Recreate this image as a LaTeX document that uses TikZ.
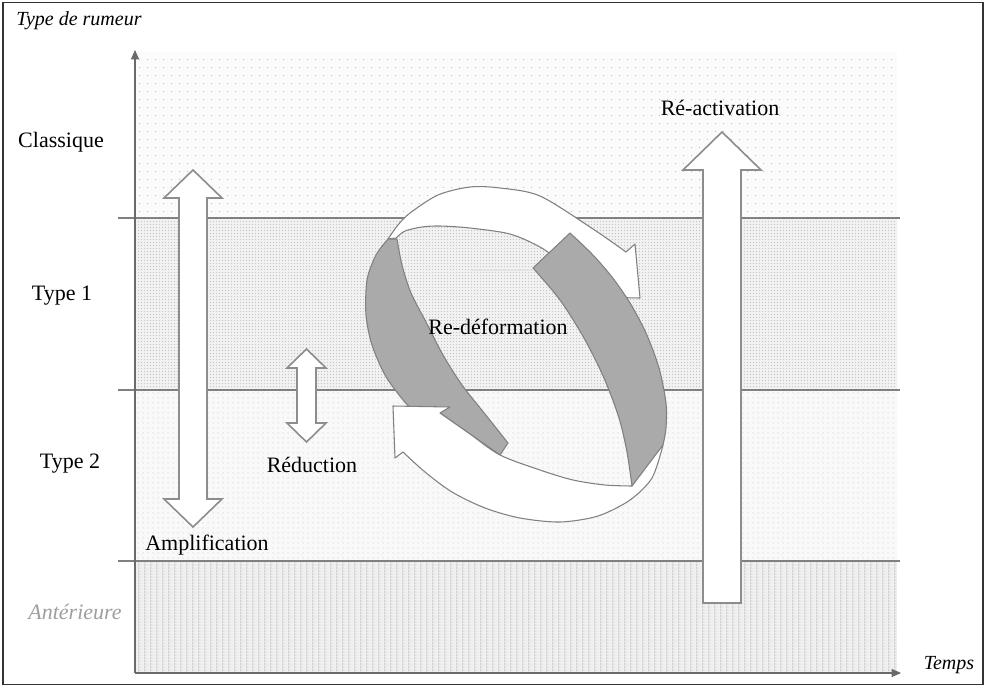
\documentclass[tikz,border=0pt]{standalone}
\usepackage{fontspec}
\setmainfont{Liberation Serif}
\usetikzlibrary{patterns.meta,arrows.meta}

\tikzdeclarepattern{name=sparsedots, type=uncolored,
  bounding box={(0,0) and (6pt,6pt)}, tile size={(6pt,6pt)},
  code={\fill (3pt,3pt) circle (0.45pt);}}
\tikzdeclarepattern{name=densedots, type=uncolored,
  bounding box={(0,0) and (2.2pt,2.2pt)}, tile size={(2.2pt,2.2pt)},
  code={\fill (1.1pt,1.1pt) circle (0.5pt);}}
\tikzdeclarepattern{name=middots, type=uncolored,
  bounding box={(0,0) and (3.4pt,3.4pt)}, tile size={(3.4pt,3.4pt)},
  code={\fill (1.7pt,1.7pt) circle (0.45pt);}}
\tikzdeclarepattern{name=vstripes, type=uncolored,
  bounding box={(0,0) and (4.5pt,2pt)}, tile size={(4.5pt,2pt)},
  code={\fill (0,0) rectangle (1.2pt,2pt); \fill (2.6pt,0.5pt) circle (0.35pt);}}

\definecolor{ringgray}{HTML}{AAAAAA}
\definecolor{edgegray}{HTML}{808080}
\definecolor{axisgray}{HTML}{6A6A6A}

\tikzset{
  lbl/.style={font=\fontsize{16.5}{19}\selectfont, inner sep=0pt},
  axlbl/.style={font=\fontsize{15}{18}\selectfont\itshape, inner sep=0pt},
  blockarrow/.style={fill=white, draw=edgegray!90, line width=1.2pt, line join=miter},
  ribbon/.style={draw=edgegray, line width=0.8pt, line join=round},
  bandline/.style={draw=edgegray, line width=0.8pt},
  axisline/.style={draw=axisgray, line width=0.8pt},
}

\begin{document}
\begin{tikzpicture}[x=0.75pt,y=-0.75pt]
\useasboundingbox (0,0) rectangle (986,687);
\fill[white] (0,0) rectangle (986,687);

% background bands
\fill[gray!3] (135,52) rectangle (897,218);
\fill[pattern=sparsedots, pattern color=gray!55] (135,52) rectangle (897,218);
\fill[gray!10] (135,218) rectangle (897,390);
\fill[pattern=densedots, pattern color=gray!45] (135,218) rectangle (897,390);
\fill[gray!5] (135,390) rectangle (897,561);
\fill[pattern=middots, pattern color=gray!50] (135,390) rectangle (897,561);
\fill[gray!12] (135,561) rectangle (897,673);
\fill[pattern=vstripes, pattern color=gray!35] (135,561) rectangle (897,673);

% band separators
\coordinate (s1a) at (118,218); \coordinate (s1b) at (900,218);
\coordinate (s2a) at (118,390); \coordinate (s2b) at (900,390);
\coordinate (s3a) at (118,561); \coordinate (s3b) at (900,561);
\draw[bandline] (s1a) -- (s1b);
\draw[bandline] (s2a) -- (s2b);
\draw[bandline] (s3a) -- (s3b);

% axes
\coordinate (origin) at (135,673);
\coordinate (ytop) at (135,50);
\coordinate (xend) at (901,673);
\draw[axisline, -{Triangle[length=7pt,width=6pt]}] (origin) -- (ytop);
\draw[axisline, -{Triangle[length=7pt,width=6pt]}] (origin) -- (xend);

% Amplification double arrow
\draw[blockarrow] (193,170) -- (222,198) -- (207,198) -- (207,499) -- (222,499)
  -- (193,527) -- (164,499) -- (179,499) -- (179,198) -- (164,198) -- cycle;
% Reduction double arrow
\draw[blockarrow] (306.5,349) -- (326,368) -- (316,368) -- (316,423) -- (326,423)
  -- (306.5,442) -- (287,423) -- (297,423) -- (297,368) -- (287,368) -- cycle;
% Re-activation arrow
\draw[blockarrow] (722,132) -- (761,170) -- (741,170) -- (741,603) -- (703,603)
  -- (703,170) -- (683,170) -- cycle;

% faint line in the ring
\coordinate (fa) at (470,270); \coordinate (fb) at (533,270);
\draw[gray!22, line width=1pt] (fa) -- (fb);

% ring: white top arrow
\draw[ribbon, fill=white]
  plot[smooth] coordinates {(388,239) (398,225) (410,213) (438,195) (470,187) (500,188) (540,196) (593,229) (626,252)}
  -- (635,244) -- (640,298) -- (588,297)
  -- plot[smooth] coordinates {(578,283) (560,262) (540,247) (510,234) (470,228) (440,226) (422,227) (405,231) (396,238)}
  -- cycle;
% ring: gray left band
\draw[ribbon, fill=ringgray]
  plot[smooth] coordinates {(388,239) (376,255) (367,280) (366,315) (372,345) (385,375) (403,400) (414,411)}
  -- (440,413)
  -- plot[smooth] coordinates {(440,413) (470,434) (500,455)}
  -- (508,443)
  -- plot[smooth] coordinates {(508,443) (485,414) (462,385) (443,355) (426,322) (411,293) (402,265) (397,239)}
  -- cycle;
% ring: white bottom arrow
\draw[ribbon, fill=white]
  (393,406) -- (450,407) -- (440,413)
  -- plot[smooth] coordinates {(440,413) (470,434) (500,455) (540,470) (573,480) (605,485) (632,486)}
  -- (648,455) -- (663,445)
  -- plot[smooth] coordinates {(663,445) (652,478) (630,500) (598,516) (560,522) (520,518) (485,508) (452,492) (425,472) (403,452)}
  -- (395,458) -- cycle;
% ring: gray right band
\draw[ribbon, fill=ringgray]
  (533,268) -- (570,233)
  -- plot[smooth] coordinates {(570,233) (592,254) (612,277) (630,303) (646,333) (659,368) (666,403) (666,428) (663,445)}
  -- (632,486)
  -- plot[smooth] coordinates {(632,486) (627,452) (619,418) (604,378) (584,338) (560,300) (533,268)}
  -- cycle;

% labels
\node[axlbl] (ylab) at (79,21) {Type de rumeur};
\node[axlbl] (xlab) at (949,665) {Temps};
\node[lbl] (classique) at (61,142) {Classique};
\node[lbl] (type1) at (62,296) {Type 1};
\node[lbl] (type2) at (70,464) {Type 2};
\node[lbl, font=\fontsize{16.5}{19}\selectfont\itshape, text=gray!75] (anterieure) at (75,612) {Antérieure};
\node[lbl] (amplif) at (207,545) {Amplification};
\node[lbl] (reduc) at (312,465) {Réduction};
\node[lbl] (redef) at (498,327) {Re-déformation};
\node[lbl] (react) at (720,108) {Ré-activation};

% frame
\draw[black!80, line width=1pt] (3,2.5) rectangle (983,684.5);
\end{tikzpicture}
\end{document}
